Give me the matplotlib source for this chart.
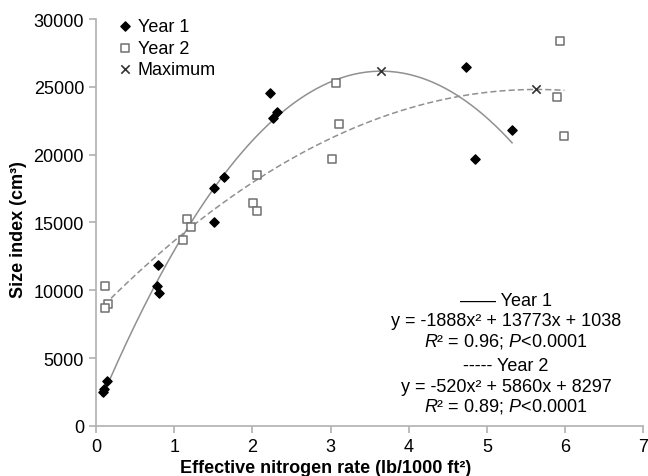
import numpy as np
import matplotlib
matplotlib.use("Agg")
from matplotlib import pyplot as plt

plt.rcParams['font.family'] = ['Liberation Sans', 'DejaVu Sans']
plt.rcParams['mathtext.fontset'] = 'custom'
plt.rcParams['mathtext.rm'] = 'Liberation Sans'
plt.rcParams['mathtext.it'] = 'Liberation Sans:italic'
plt.rcParams['mathtext.bf'] = 'Liberation Sans:bold'

# data
year1_x = [0.085, 0.10, 0.137, 0.79, 0.78, 0.81, 1.51, 1.51, 1.64, 2.22, 2.27, 2.32, 4.73, 5.32, 4.85]
year1_y = [2510, 2710, 3320, 11870, 10330, 9810, 17550, 15050, 18340, 24560, 22690, 23160, 26450, 21810, 19670]
year2_x = [0.12, 0.15, 0.11, 1.11, 1.16, 1.22, 2.06, 2.01, 2.06, 3.07, 3.11, 3.02, 5.93, 5.90, 5.99]
year2_y = [10280, 8980, 8700, 13720, 15240, 14650, 18490, 16400, 15880, 25250, 22230, 19650, 28390, 24220, 21340]
max_x = [3.65, 5.63]
max_y = [26160, 24810]

# fitted quadratics (a, b, c)
fit1 = [-1888, 13773, 1038]
fit2 = [-520, 5860, 8297]

fig = plt.figure(figsize=(6.48, 4.77), dpi=100)
ax = fig.add_axes([0.148, 0.105, 0.845, 0.853])

grey = '#909090'

x1 = np.linspace(min(year1_x), max(year1_x), 200)
ax.plot(x1, np.polyval(fit1, x1), color=grey, lw=1.1, zorder=1)
x2 = np.linspace(min(year2_x), max(year2_x), 200)
ax.plot(x2, np.polyval(fit2, x2), color=grey, lw=1.1, ls=(0, (4, 2)), zorder=1)

ax.scatter(year1_x, year1_y, marker='D', s=22, color='black', label='Year 1', zorder=3)
ax.scatter(year2_x, year2_y, marker='s', s=38, facecolors='white', edgecolors='#707070',
           linewidths=1.1, label='Year 2', zorder=2)
ax.scatter(max_x, max_y, marker='x', s=36, color='#333333', linewidths=1.2,
           label='Maximum', zorder=4)

ax.set_xlim(0, 7)
ax.set_ylim(0, 30000)
ax.set_xticks(range(0, 8))
ax.set_yticks(range(0, 30001, 5000))
for s in ['top', 'right']:
    ax.spines[s].set_visible(False)
for s in ['left', 'bottom']:
    ax.spines[s].set_color('#b0b0b0')
    ax.spines[s].set_linewidth(1.2)
ax.tick_params(colors='#b0b0b0', labelcolor='black', labelsize=13, length=5, width=1.2)

ax.set_ylabel('Size index (cm³)', fontsize=13, fontweight='bold')
ax.set_xlabel('Effective nitrogen rate (lb/1000 ft²)', fontsize=13, fontweight='bold')
ax.yaxis.set_label_coords(-0.125, 0.484)
ax.xaxis.set_label_coords(0.42, -0.082)

ax.legend(loc='upper left', bbox_to_anchor=(0.02, 1.02), frameon=False, fontsize=13,
          handletextpad=0.1, labelspacing=0.25, handlelength=1.2, borderaxespad=0)

eq = ['—— Year 1',
      'y = -1888x² + 13773x + 1038',
      r'$\it{R}$² = 0.96; $\it{P}$<0.0001',
      '----- Year 2',
      'y = -520x² + 5860x + 8297',
      r'$\it{R}$² = 0.89; $\it{P}$<0.0001']
ypos = [302, 322, 342, 367, 387, 407]
for t, yp in zip(eq, ypos):
    fig.text(506 / 648, 1 - yp / 477, t, ha='center', va='center', fontsize=13)

fig.savefig('out.png', dpi=100)
